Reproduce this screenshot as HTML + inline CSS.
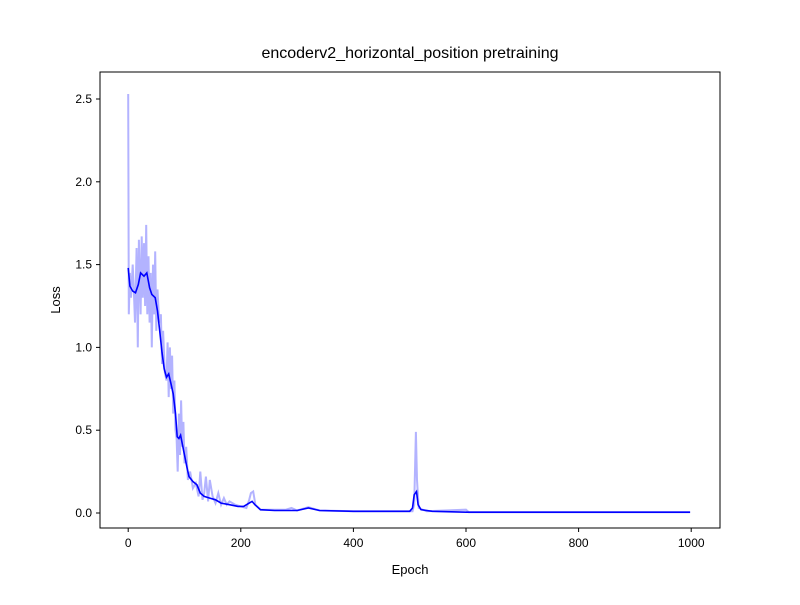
<!DOCTYPE html>
<html><head><meta charset="utf-8"><style>
body{margin:0;background:#fff}
svg{font-family:"Liberation Sans","DejaVu Sans",sans-serif}
</style></head><body>
<svg id="chart" width="800" height="600" xmlns="http://www.w3.org/2000/svg">
<rect width="800" height="600" fill="#fff"/>
<text x="410" y="58" text-anchor="middle" font-size="16">encoderv2_horizontal_position pretraining</text>
<g id="plot"></g>
<rect x="100" y="72" width="620" height="456" fill="none" stroke="#000" stroke-width="1"/>
<text x="410" y="574" text-anchor="middle" font-size="13">Epoch</text>
<text x="60" y="300" text-anchor="middle" font-size="13" transform="rotate(-90 60 300)">Loss</text>
</svg>
<script>
const rawEpochs=[0,1,3,5,8,10,12,15,17,19,22,24,26,28,30,32,34,36,38,40,42,44,46,48,50,52,55,58,60,62,65,68,70,72,74,76,78,80,82,84,86,88,90,92,94,96,98,100,103,106,110,115,120,125,128,132,135,138,142,145,150,155,160,165,170,175,180,190,200,210,215,218,222,226,235,250,280,290,300,320,340,400,450,505,508,511,513,516,530,600,605,700,800,900,998];
const rawLoss=[2.53,1.2,1.45,1.3,1.5,1.35,1.15,1.6,1.0,1.65,1.2,1.67,1.3,1.63,1.25,1.74,1.2,1.55,1.15,1.45,1.0,1.5,1.2,1.58,1.1,1.35,1.15,1.2,0.9,1.1,0.85,0.8,1.03,0.7,1.0,0.75,0.95,0.6,0.8,0.5,0.45,0.25,0.6,0.35,0.68,0.4,0.55,0.3,0.4,0.2,0.25,0.15,0.18,0.1,0.25,0.08,0.12,0.22,0.07,0.2,0.1,0.06,0.12,0.05,0.09,0.05,0.07,0.05,0.04,0.03,0.08,0.12,0.13,0.05,0.02,0.02,0.02,0.03,0.015,0.035,0.015,0.01,0.01,0.01,0.05,0.49,0.2,0.03,0.01,0.02,0.005,0.005,0.005,0.005,0.005];
const smoothEpochs=[0,3,8,13,18,22,28,33,38,42,48,52,56,60,64,68,72,76,80,84,87,90,93,96,100,104,108,115,122,128,135,145,155,165,180,195,205,215,220,225,235,260,300,320,340,400,500,505,508,512,515,520,540,600,998];
const smoothLoss=[1.48,1.37,1.34,1.33,1.38,1.45,1.43,1.45,1.36,1.32,1.30,1.22,1.1,0.97,0.87,0.82,0.84,0.78,0.72,0.6,0.46,0.45,0.47,0.42,0.35,0.28,0.22,0.19,0.17,0.12,0.1,0.09,0.08,0.06,0.05,0.04,0.04,0.06,0.07,0.05,0.02,0.015,0.015,0.03,0.015,0.01,0.01,0.03,0.11,0.13,0.05,0.02,0.01,0.005,0.005];
const xTicks=[0,200,400,600,800,1000];
const yTicks=[0.0,0.5,1.0,1.5,2.0,2.5];
const xs=v=>128.2+v*0.5630;
const ys=v=>513-v*165.6;
const NS="http://www.w3.org/2000/svg";
const g=document.getElementById('plot');
function pts(ex,ey){return ex.map((e,i)=>xs(e).toFixed(1)+","+ys(ey[i]).toFixed(1)).join(" ");}
const raw=document.createElementNS(NS,'polyline');
raw.setAttribute('points',pts(rawEpochs,rawLoss));
raw.setAttribute('fill','none');raw.setAttribute('stroke','#b3b3ff');raw.setAttribute('stroke-width','2');


g.appendChild(raw);
const sm=document.createElementNS(NS,'polyline');
sm.setAttribute('points',pts(smoothEpochs,smoothLoss));
sm.setAttribute('fill','none');sm.setAttribute('stroke','#0000ff');sm.setAttribute('stroke-width','1.6');


g.appendChild(sm);
xTicks.forEach(t=>{
  const l=document.createElementNS(NS,'line');
  l.setAttribute('x1',xs(t));l.setAttribute('x2',xs(t));l.setAttribute('y1',528);l.setAttribute('y2',532);l.setAttribute('stroke','#000');
  
  
  g.appendChild(l);
  const tx=document.createElementNS(NS,'text');
  tx.setAttribute('x',xs(t));tx.setAttribute('y',547);tx.setAttribute('text-anchor','middle');tx.setAttribute('font-size','12');
  tx.textContent=t;
  
  
  g.appendChild(tx);
});
yTicks.forEach(t=>{
  const l=document.createElementNS(NS,'line');
  l.setAttribute('x1',96);l.setAttribute('x2',100);l.setAttribute('y1',ys(t));l.setAttribute('y2',ys(t));l.setAttribute('stroke','#000');
  
  
  g.appendChild(l);
  const tx=document.createElementNS(NS,'text');
  tx.setAttribute('x',92);tx.setAttribute('y',ys(t)+4);tx.setAttribute('text-anchor','end');tx.setAttribute('font-size','12');
  tx.textContent=t.toFixed(1);
  
  
  g.appendChild(tx);
});
</script>
</body></html>
